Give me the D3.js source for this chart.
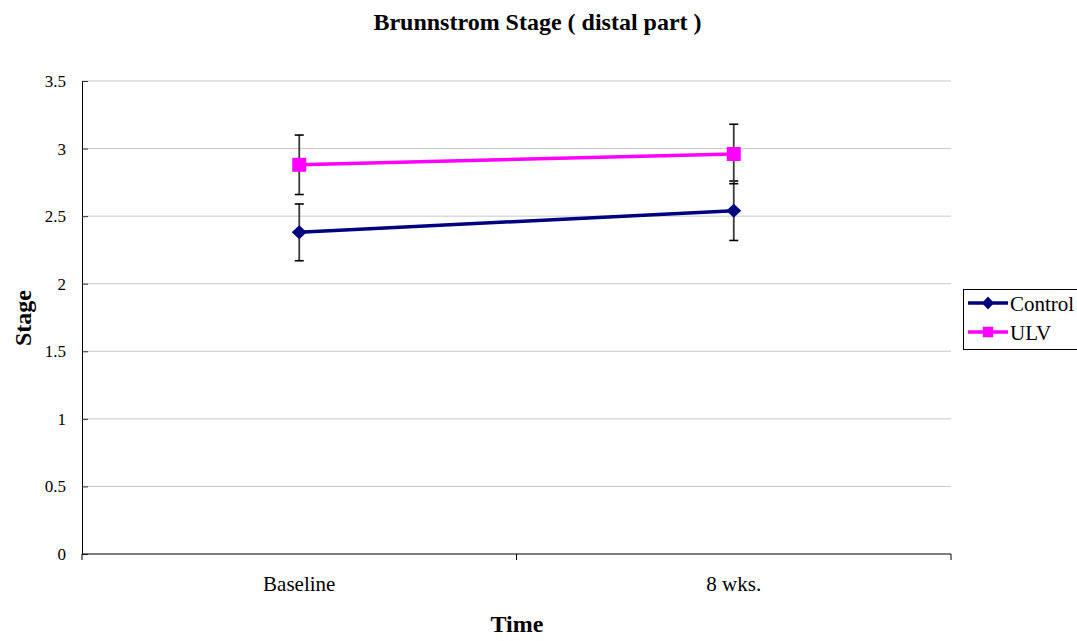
<!DOCTYPE html>
<html>
<head>
<meta charset="utf-8">
<script src="https://cdn.jsdelivr.net/npm/d3@7"></script>
<style>
  html, body { margin: 0; padding: 0; background: #fff; }
  svg { display: block; font-family: "Liberation Serif", "Times New Roman", serif; }
</style>
</head>
<body>
<svg id="chart" width="1077" height="641"></svg>
<script>
// Time points and group means with standard deviations
const timePoints = ["Baseline", "8 wks."];
const seriesNames = ["Control", "ULV"];
const controlMeans = [2.38, 2.54];
const controlErr = [0.21, 0.22];
const ulvMeans = [2.88, 2.96];
const ulvErr = [0.22, 0.22];
const yTicks = [0, 0.5, 1, 1.5, 2, 2.5, 3, 3.5];

const series = [
  { name: seriesNames[0], means: controlMeans, err: controlErr, color: "#000080", marker: "diamond" },
  { name: seriesNames[1], means: ulvMeans, err: ulvErr, color: "#ff00ff", marker: "square" }
];

const svg = d3.select("#chart");
const plot = { left: 82, right: 951, top: 81, bottom: 554 };

const x = d3.scaleBand().domain(timePoints).range([plot.left, plot.right]);
const y = d3.scaleLinear().domain([0, 3.5]).range([plot.bottom, plot.top]);

// Horizontal gridlines
svg.append("g").selectAll("line")
  .data(yTicks.filter(d => d > 0))
  .join("line")
  .attr("x1", plot.left).attr("x2", plot.right)
  .attr("y1", d => y(d)).attr("y2", d => y(d))
  .attr("stroke", "#c8c8c8").attr("stroke-width", 1);

// Y axis, tick marks pointing into the plot
const yAxis = svg.append("g")
  .attr("transform", `translate(${plot.left},0)`)
  .call(d3.axisLeft(y).tickValues(yTicks).tickSize(-6).tickPadding(16).tickFormat(d3.format("")));
yAxis.select(".domain").attr("stroke", "#000");
yAxis.selectAll(".tick line").attr("stroke", "#333");
yAxis.selectAll("text").attr("font-family", "Liberation Serif").attr("font-size", 17).attr("fill", "#000");

// X axis with tick marks at category boundaries
const xAxisG = svg.append("g").attr("transform", `translate(0,${plot.bottom})`);
xAxisG.append("line")
  .attr("x1", plot.left).attr("x2", plot.right)
  .attr("y1", 0).attr("y2", 0)
  .attr("stroke", "#000");
const bounds = [plot.left, ...timePoints.map(t => x(t) + x.bandwidth())];
xAxisG.selectAll(".bt").data(bounds).join("line")
  .attr("x1", d => d).attr("x2", d => d)
  .attr("y1", 0).attr("y2", 6)
  .attr("stroke", "#000");
xAxisG.selectAll("text").data(timePoints).join("text")
  .attr("x", d => x(d) + x.bandwidth() / 2)
  .attr("y", 37)
  .attr("text-anchor", "middle")
  .attr("font-size", 21)
  .text(d => d);

const cx = t => x(t) + x.bandwidth() / 2;

// Error bars
series.forEach(s => {
  const g = svg.append("g");
  timePoints.forEach((t, i) => {
    const top = y(s.means[i] + s.err[i]);
    const bot = y(s.means[i] - s.err[i]);
    g.append("line").attr("x1", cx(t)).attr("x2", cx(t)).attr("y1", top).attr("y2", bot)
      .attr("stroke", "#3a3a3a").attr("stroke-width", 1.8);
    [top, bot].forEach(v => g.append("line")
      .attr("x1", cx(t) - 4.5).attr("x2", cx(t) + 4.5).attr("y1", v).attr("y2", v)
      .attr("stroke", "#000").attr("stroke-width", 1.6));
  });
});

// Diamond marker: w wide, h tall
const diamondType = (w, h) => ({
  draw(ctx) {
    ctx.moveTo(0, -h / 2);
    ctx.lineTo(w / 2, 0);
    ctx.lineTo(0, h / 2);
    ctx.lineTo(-w / 2, 0);
    ctx.closePath();
  }
});
const markerPath = (m, big) => m === "diamond"
  ? d3.symbol().type(diamondType(big ? 15 : 12, big ? 14 : 13))()
  : d3.symbol().type(d3.symbolSquare).size(big ? 196 : 110)();

// Lines and markers
const line = d3.line().x(d => cx(d.t)).y(d => y(d.v));
series.forEach(s => {
  const pts = timePoints.map((t, i) => ({ t, v: s.means[i] }));
  svg.append("path").datum(pts).attr("d", line)
    .attr("fill", "none").attr("stroke", s.color).attr("stroke-width", 3.5);
  svg.append("g").selectAll("path").data(pts).join("path")
    .attr("d", markerPath(s.marker, true))
    .attr("transform", d => `translate(${cx(d.t)},${y(d.v)})`)
    .attr("fill", s.color);
});

// Title and axis titles
svg.append("text").attr("x", 537.5).attr("y", 30).attr("text-anchor", "middle")
  .attr("font-weight", "bold").attr("font-size", 24).text("Brunnstrom Stage ( distal part )");
svg.append("text").attr("x", 517).attr("y", 632).attr("text-anchor", "middle")
  .attr("font-weight", "bold").attr("font-size", 24).text("Time");
svg.append("text").attr("transform", "translate(31,318) rotate(-90)").attr("text-anchor", "middle")
  .attr("font-weight", "bold").attr("font-size", 24).text("Stage");

// Legend
const legend = svg.append("g");
legend.append("rect").attr("x", 963.5).attr("y", 289.5).attr("width", 120).attr("height", 60)
  .attr("fill", "#fff").attr("stroke", "#000").attr("stroke-width", 1);
series.forEach((s, i) => {
  const ly = 303 + i * 29;
  legend.append("line").attr("x1", 968).attr("x2", 1008).attr("y1", ly).attr("y2", ly)
    .attr("stroke", s.color).attr("stroke-width", 3.5);
  legend.append("path").attr("d", markerPath(s.marker, false))
    .attr("transform", `translate(988,${ly})`)
    .attr("fill", s.color);
  legend.append("text").attr("x", 1010).attr("y", ly + 8).attr("font-size", 21).text(s.name);
});
</script>
</body>
</html>
